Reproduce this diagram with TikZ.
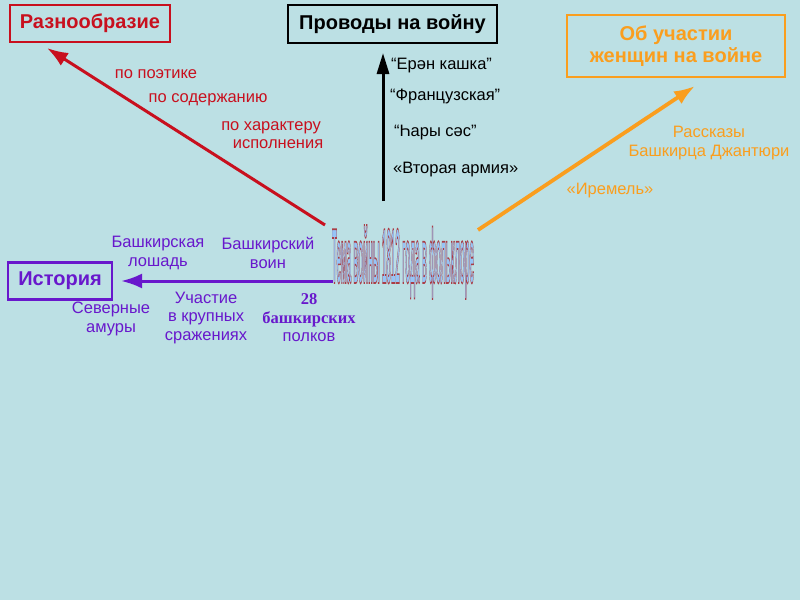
\documentclass[tikz,border=0pt]{standalone}
\usepackage{fontspec}
\setmainfont{Liberation Sans}
\newfontfamily\serifface{Liberation Serif}
\usepackage{graphicx}
\usetikzlibrary{arrows.meta,positioning}
\definecolor{bgcyan}{RGB}{188,224,228}
\definecolor{redline}{RGB}{200,16,30}
\definecolor{orangeline}{RGB}{250,158,30}
\definecolor{purpleline}{RGB}{104,24,204}
\definecolor{artblue}{RGB}{150,196,246}
\definecolor{shadowred}{RGB}{170,60,70}
% light blue letters, dark red rim
\newcommand\wordart[1]{{\color{artblue}\special{pdf:code 0.67 0.24 0.27 RG 0.22 w 2 Tr}#1\special{pdf:code 0 Tr}}}

\begin{document}
\begin{tikzpicture}[x=1pt,y=-1pt,>=Latex,
 title/.style={draw,line width=2.8pt,inner sep=0pt,font=\bfseries\fontsize{20}{22}\selectfont,align=center},
 lbl/.style={font=\fontsize{16.5}{18.5}\selectfont,align=center,inner sep=1pt},
 arrtip/.style={-{Latex[length=21pt,width=15pt]},line width=3pt}]
\useasboundingbox[fill=bgcyan] (0,0) rectangle (800,600);
% boxes
\node[title,draw=redline,text=redline,minimum width=160pt,minimum height=37pt] (variety) at (90,23.5) {Разнообразие};
\node[title,draw=black,minimum width=209pt,minimum height=38pt] (farewell) at (392.5,24) {Проводы на войну};
\node[title,draw=orangeline,text=orangeline,minimum width=218pt,minimum height=62pt] (women) at (676,46) {Об участии\\женщин на войне};
\node[title,draw=purpleline,text=purpleline,minimum width=104pt,minimum height=37pt] (history) at (60,281) {История};
% centre
\node[inner sep=0pt] (theme) at (403,262) {\resizebox{142pt}{58pt}{\bfseries\wordart{Тема войны 1812 года в фольклоре}}};
% arrows
\coordinate (redstart) at (325,225);
\coordinate (redend) at (47,48);
\coordinate (blackstart) at (383,201);
\coordinate (blackend) at (383,53);
\coordinate (orangestart) at (478,230);
\coordinate (orangeend) at (695,86);
\coordinate (purplestart) at (333,281);
\coordinate (purpleend) at (121,281);
\draw[arrtip,redline] (redstart)--(redend);
\draw[-{Triangle[length=21pt,width=12pt]},line width=3pt] (blackstart)--(blackend);
\draw[arrtip,orangeline,line width=3.8pt] (orangestart)--(orangeend);
\draw[arrtip,purpleline] (purplestart)--(purpleend);
% red labels
\node[lbl,text=redline] (poetics) at (156,74) {по поэтике};
\node[lbl,text=redline] (content) at (208,100) {по содержанию};
\node[lbl,text=redline] (perform) at (271,135) {по характеру\\\hspace*{14pt}исполнения};
% songs
\node[lbl,anchor=west] (song1) at (390,66) {“Ерән кашка”};
\node[lbl,anchor=west] (song2) at (389,96) {“Французская”};
\node[lbl,anchor=west] (song3) at (393,133) {“Һары сәс”};
\node[lbl,anchor=west] (song4) at (392,170) {«Вторая армия»};
% orange labels
\node[lbl,text=orangeline] (stories) at (709,143) {Рассказы\\Башкирца Джантюри};
\node[lbl,text=orangeline] (iremel) at (610,191) {«Иремель»};
% purple labels
\node[lbl,text=purpleline] (horse) at (158,253) {Башкирская\\лошадь};
\node[lbl,text=purpleline] (warrior) at (268,253) {Башкирский\\воин};
\node[lbl,text=purpleline] (amury) at (111,319) {Северные\\амуры};
\node[lbl,text=purpleline] (battles) at (206,318) {Участие\\в крупных\\сражениях};
\node[lbl,text=purpleline] (regiments) at (309,318) {{\serifface\bfseries 28}\\{\serifface\bfseries башкирских}\\полков};
\end{tikzpicture}
\end{document}
